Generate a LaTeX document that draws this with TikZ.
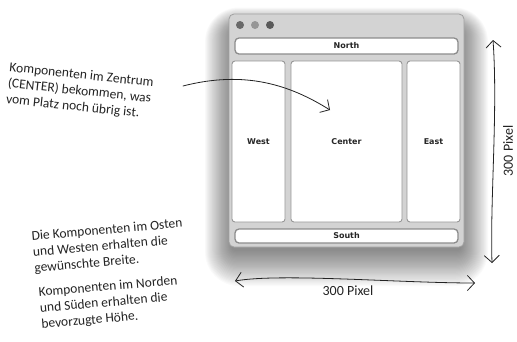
\documentclass[tikz,border=0pt]{standalone}
\usepackage{fontspec}
\setmainfont{Carlito}
\newfontfamily\uifont{DejaVu Sans}
\usetikzlibrary{arrows.meta}
\definecolor{winbg}{RGB}{211,211,211}
\definecolor{winedge}{RGB}{160,160,160}
\definecolor{paneledge}{RGB}{150,150,150}
\definecolor{ink}{RGB}{35,35,35}
\definecolor{dotA}{RGB}{105,105,105}
\definecolor{dotB}{RGB}{150,150,150}
\definecolor{dotC}{RGB}{90,90,90}
\begin{document}
\begin{tikzpicture}[x=1pt,y=-1pt,
  >={Straight Barb[length=7pt,width=15pt]},
  panel/.style={draw=paneledge, line width=0.9pt, fill=white, rounded corners=3pt,
    inner sep=0pt, font=\uifont\bfseries\fontsize{8}{9}\selectfont, text=black!85},
  bar/.style={panel, line width=1.3pt, draw=black!45, rounded corners=4pt},
  note/.style={font=\fontsize{13.5}{16}\selectfont, align=left, inner sep=0pt, text=ink},
  hand/.style={line width=0.8pt, draw=ink, line cap=round, line join=round}]
\useasboundingbox (0,0) rectangle (517,341);
% soft shadow
\foreach \i in {1,...,30}{
  \fill[black, opacity=0.021, rounded corners=\i+4]
    (232-0.9*\i,30-0.75*\i) rectangle (461+0.9*\i,250+1.2*\i);
}
% window
\node[draw=winedge, line width=0.8pt, fill=winbg, rounded corners=5pt, inner sep=0pt,
  minimum width=235, minimum height=233] (win) at (346.5,130.5) {};
\fill[dotA] (240,25) circle (4);
\fill[dotB] (255,25) circle (4);
\fill[dotC] (270,25) circle (4);
\node[bar, minimum width=223, minimum height=16] (north) at (346.5,46) {North};
\node[panel, minimum width=53, minimum height=161] (west) at (258.5,141.5) {West};
\node[panel, minimum width=111, minimum height=161] (center) at (346.5,141.5) {Center};
\node[panel, minimum width=53, minimum height=161] (east) at (433.5,141.5) {East};
\node[bar, minimum width=223, minimum height=14] (south) at (346.5,236) {South};
% notes
\node[note, rotate=-6, anchor=north west] (note1) at (10,62)
  {Komponenten im Zentrum\\(CENTER) bekommen, was\\vom Platz noch übrig ist.};
\node[note, rotate=5, anchor=north west] (note2) at (31,231)
  {Die Komponenten im Osten\\und Westen erhalten die\\gewünschte Breite.};
\node[note, rotate=5, anchor=north west] (note3) at (38,287)
  {Komponenten im Norden\\und Süden erhalten die\\bevorzugte Höhe.};
% curved arrow
\coordinate (cstart) at (183,86);
\coordinate (cend) at (330,110);
\draw[hand,->] (cstart) .. controls (245,70) and (290,85) .. (cend);
% dimension arrows
\coordinate (vt) at (493,40);
\coordinate (vb) at (492,263);
\draw[hand,<->] (vb) .. controls (490,200) and (498,110) .. (vt);
\node[note, rotate=90, font=\fontsize{14}{15}\selectfont] (vlabel) at (508,151) {300 Pixel};
\coordinate (hl) at (235,281);
\coordinate (hr) at (475,283);
\draw[hand,<->] (hl) .. controls (280,273) and (400,283) .. (hr);
\node[note, font=\fontsize{14}{15}\selectfont] (hlabel) at (348,291) {300 Pixel};
\end{tikzpicture}
\end{document}
